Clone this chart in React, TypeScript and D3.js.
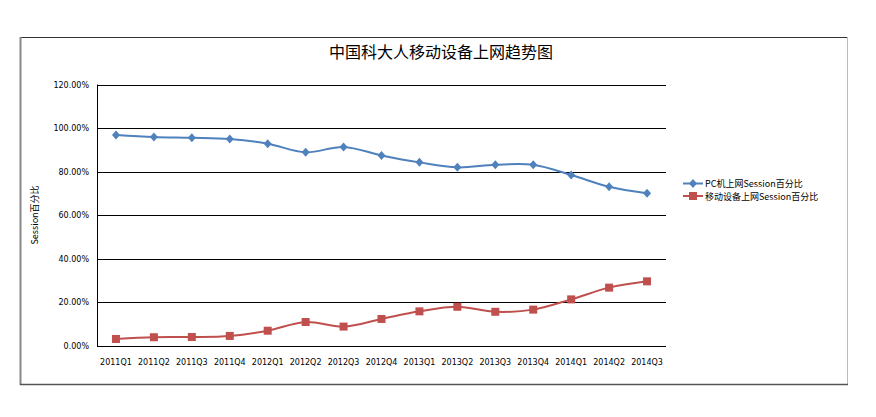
import React from "react";
import * as d3 from "d3";

const categories = ["2011Q1","2011Q2","2011Q3","2011Q4","2012Q1","2012Q2","2012Q3","2012Q4","2013Q1","2013Q2","2013Q3","2013Q4","2014Q1","2014Q2","2014Q3"];
const pcValues = [96.8,95.9,95.5,94.9,92.8,88.8,91.3,87.4,84.2,81.9,83.1,83.1,78.4,73.0,70.0];
const mobileValues = [3.0,3.8,3.9,4.4,6.8,10.8,8.7,12.2,15.7,17.8,15.5,16.5,21.2,26.6,29.5];
const yTicks = [0,20,40,60,80,100,120];
const seriesNames = ["PC机上网Session百分比","移动设备上网Session百分比"];
const title = "中国科大人移动设备上网趋势图";
const yTitle = "Session百分比";

const W = 876, H = 417;
const plot = { left: 97, right: 666, top: 84.5, bottom: 345.5 };
const BLUE = "#4F81BD", RED = "#C0504D";
const FONT = "'Noto Sans CJK SC', 'DejaVu Sans', sans-serif";

export default function App() {
  const x = d3.scaleBand<string>().domain(categories).range([plot.left, plot.right]);
  const y = d3.scaleLinear().domain([0, 120]).range([plot.bottom, plot.top]);
  const cx = (c: string) => (x(c) as number) + x.bandwidth() / 2;
  const line = d3.line<number>()
    .x((_, i) => cx(categories[i]))
    .y((d) => y(d))
    .curve(d3.curveCatmullRom.alpha(0));
  const diamond = (px: number, py: number) => `M${px},${py - 4.5}L${px + 4},${py}L${px},${py + 4.5}L${px - 4},${py}Z`;

  return (
    <svg width={W} height={H} style={{ position: "absolute", left: 0, top: 0, background: "#fff" }} fontFamily={FONT}>
      {/* chart frame */}
      <line x1={20} y1={37.5} x2={847} y2={37.5} stroke="#333" strokeWidth={1} />
      <line x1={20.5} y1={37} x2={20.5} y2={385} stroke="#888" strokeWidth={2} />
      <line x1={847.5} y1={37} x2={847.5} y2={385} stroke="#bbb" strokeWidth={1} />
      <line x1={20} y1={384.5} x2={848} y2={384.5} stroke="#555" strokeWidth={1.5} />

      <text x={441} y={58} textAnchor="middle" fontSize={16} fill="#000">{title}</text>

      {/* gridlines */}
      {yTicks.map((t) => (
        <line key={t} x1={plot.left} x2={plot.right} y1={Math.round(y(t)) + 0.5} y2={Math.round(y(t)) + 0.5} stroke="#000" strokeWidth={1} />
      ))}
      <line x1={plot.left + 0.5} x2={plot.left + 0.5} y1={plot.top} y2={plot.bottom + 1} stroke="#000" strokeWidth={1} />

      {yTicks.map((t) => (
        <text key={t} x={89} y={y(t) + 3} textAnchor="end" fontSize={8} fill="#000" fontFamily="'DejaVu Sans', sans-serif">{t.toFixed(2) + "%"}</text>
      ))}
      <text transform={`translate(38,${(plot.top + plot.bottom) / 2}) rotate(-90)`} textAnchor="middle" fontSize={9} fill="#000">{yTitle}</text>

      {categories.map((c) => (
        <text key={c} x={cx(c)} y={365} textAnchor="middle" fontSize={8} fill="#000" fontFamily="'DejaVu Sans', sans-serif">{c}</text>
      ))}

      <path d={line(pcValues) || ""} fill="none" stroke={BLUE} strokeWidth={2} />
      <path d={line(mobileValues) || ""} fill="none" stroke={RED} strokeWidth={2} />
      {pcValues.map((v, i) => (
        <path key={i} d={diamond(cx(categories[i]), y(v))} fill={BLUE} />
      ))}
      {mobileValues.map((v, i) => (
        <rect key={i} x={cx(categories[i]) - 4} y={y(v) - 4} width={8} height={8} fill={RED} />
      ))}

      {/* legend */}
      <line x1={683} x2={703} y1={183.5} y2={183.5} stroke={BLUE} strokeWidth={2} />
      <path d={diamond(693, 183.5)} fill={BLUE} />
      <text x={705} y={187} fontSize={9} fill="#000">{seriesNames[0]}</text>
      <line x1={683} x2={703} y1={196} y2={196} stroke={RED} strokeWidth={2} />
      <rect x={689} y={192} width={8} height={8} fill={RED} />
      <text x={705} y={199.5} fontSize={9} fill="#000">{seriesNames[1]}</text>
    </svg>
  );
}
